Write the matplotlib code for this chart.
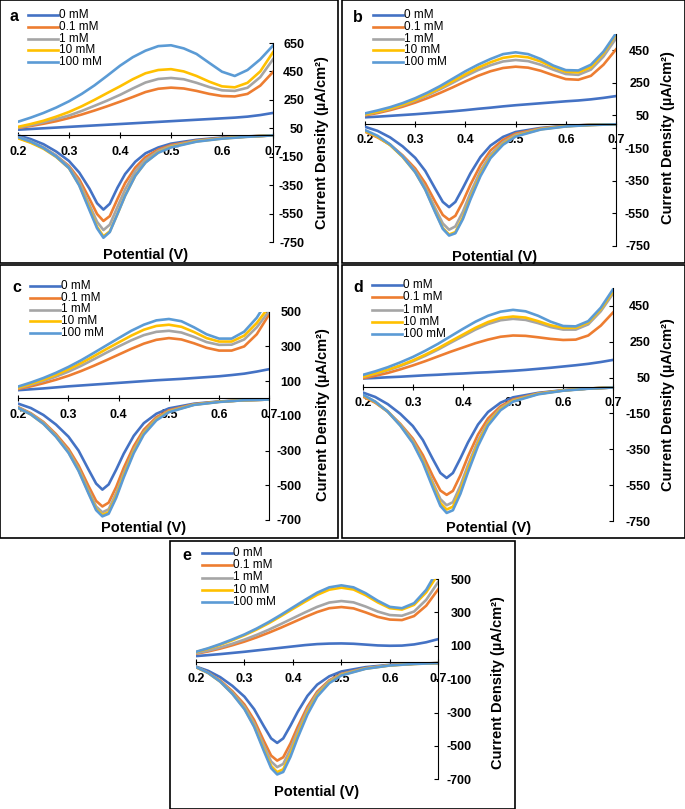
import matplotlib
matplotlib.use("Agg")
import matplotlib.pyplot as plt
from matplotlib.lines import Line2D
from matplotlib.patches import Rectangle

plt.rcParams['font.family'] = ['Liberation Sans', 'DejaVu Sans']
plt.rcParams['axes.unicode_minus'] = False

# potential grids (V) for the forward (anodic) and reverse (cathodic) sweeps
fwd_v = [0.2, 0.225, 0.25, 0.275, 0.3, 0.325, 0.35, 0.375, 0.4, 0.425, 0.45,
         0.475, 0.5, 0.525, 0.55, 0.575, 0.6, 0.625, 0.65, 0.675, 0.7]
rev_v = [0.2, 0.225, 0.25, 0.275, 0.3, 0.32, 0.34, 0.355, 0.3675, 0.38, 0.395,
         0.41, 0.43, 0.45, 0.475, 0.5, 0.55, 0.6, 0.65, 0.7]

conc_labels = ['0 mM', '0.1 mM', '1 mM', '10 mM', '100 mM']
conc_colors = ['#4472C4', '#ED7D31', '#A5A5A5', '#FFC000', '#5B9BD5']

# panel a  (µA/cm²)
a_fwd = [
    [40, 45, 50, 55, 60, 65, 70, 75, 80, 85, 90, 95, 100, 105, 110, 115, 120, 125, 132, 143, 158],
    [52, 66, 82, 100, 122, 147, 175, 205, 237, 270, 305, 328, 336, 330, 313, 292, 277, 274, 292, 350, 446],
    [55, 72, 92, 115, 140, 172, 208, 245, 285, 330, 372, 397, 404, 395, 370, 340, 317, 313, 335, 410, 535],
    [60, 80, 103, 132, 165, 205, 250, 298, 345, 395, 437, 460, 466, 450, 418, 378, 345, 338, 370, 450, 585],
    [96, 125, 158, 196, 240, 292, 352, 420, 490, 550, 596, 628, 634, 612, 573, 510, 448, 418, 460, 535, 632],
]
a_rev = [
    [0, -26, -62, -114, -180, -261, -374, -477, -522, -481, -368, -272, -185, -126, -85, -58, -31, -15, -7, 0],
    [-16, -48, -88, -143, -215, -308, -445, -553, -602, -568, -448, -335, -226, -152, -100, -68, -36, -18, -8, 0],
    [-9, -42, -84, -142, -222, -330, -488, -608, -666, -628, -503, -380, -252, -172, -110, -75, -39, -20, -8, 0],
    [-20, -52, -94, -152, -231, -348, -513, -643, -710, -675, -553, -423, -283, -189, -119, -81, -42, -22, -9, 0],
    [-12, -44, -89, -149, -230, -352, -525, -653, -720, -680, -553, -425, -284, -191, -122, -85, -44, -23, -10, 0],
]

# panel b
b_fwd = [
    [38, 42, 47, 52, 57, 63, 69, 75, 82, 90, 97, 105, 112, 118, 124, 130, 136, 141, 148, 157, 168],
    [50, 64, 82, 103, 128, 156, 188, 222, 258, 292, 320, 340, 348, 342, 323, 296, 272, 268, 292, 360, 454],
    [54, 70, 89, 112, 140, 173, 210, 250, 290, 327, 357, 380, 389, 382, 360, 330, 303, 298, 330, 410, 521],
    [56, 72, 92, 116, 145, 180, 218, 260, 302, 342, 375, 402, 413, 405, 380, 345, 317, 313, 345, 430, 546],
    [62, 80, 100, 125, 155, 190, 230, 275, 320, 360, 395, 425, 436, 425, 395, 355, 327, 325, 360, 440, 552],
]
b_rev = [
    [-20, -45, -85, -140, -210, -290, -400, -480, -512, -480, -395, -305, -205, -135, -82, -52, -27, -14, -8, -5],
    [-50, -85, -130, -195, -275, -365, -480, -560, -590, -565, -478, -375, -255, -165, -100, -62, -30, -15, -8, -5],
    [-45, -80, -130, -200, -290, -390, -520, -612, -650, -630, -540, -425, -290, -190, -115, -70, -33, -16, -8, -5],
    [-45, -80, -132, -205, -298, -402, -540, -640, -680, -665, -575, -455, -312, -205, -125, -76, -35, -17, -9, -5],
    [-40, -75, -128, -202, -298, -405, -545, -645, -686, -672, -585, -465, -322, -212, -130, -80, -37, -18, -9, -5],
]

# panel c
c_fwd = [
    [48, 53, 58, 64, 70, 75, 80, 85, 90, 95, 100, 105, 109, 113, 118, 123, 128, 135, 143, 155, 169],
    [55, 70, 88, 108, 131, 158, 188, 220, 253, 286, 316, 338, 348, 340, 318, 292, 276, 276, 300, 370, 486],
    [60, 79, 101, 126, 155, 188, 225, 263, 300, 335, 365, 384, 390, 380, 355, 325, 309, 310, 340, 410, 505],
    [63, 84, 108, 136, 168, 204, 243, 284, 323, 362, 396, 418, 425, 413, 383, 348, 328, 328, 362, 435, 530],
    [69, 92, 118, 148, 182, 220, 262, 305, 348, 390, 425, 450, 458, 445, 410, 370, 345, 345, 385, 465, 580],
]
c_rev = [
    [-30, -55, -95, -150, -220, -300, -410, -490, -525, -495, -410, -318, -215, -142, -88, -57, -30, -17, -10, -6],
    [-50, -85, -135, -205, -290, -385, -505, -590, -622, -600, -510, -400, -275, -180, -108, -68, -33, -18, -10, -6],
    [-52, -88, -140, -213, -303, -403, -530, -622, -656, -638, -545, -430, -296, -194, -117, -73, -35, -19, -10, -6],
    [-55, -92, -145, -218, -310, -412, -542, -636, -671, -655, -562, -444, -306, -201, -121, -76, -36, -19, -10, -6],
    [-55, -92, -146, -220, -313, -417, -548, -643, -679, -664, -572, -455, -315, -208, -126, -79, -37, -20, -10, -6],
]

# panel d
d_fwd = [
    [45, 48, 52, 55, 59, 63, 66, 70, 73, 77, 80, 84, 88, 93, 99, 105, 112, 119, 127, 137, 149],
    [46, 60, 76, 96, 118, 142, 168, 194, 218, 242, 262, 278, 285, 283, 275, 266, 260, 262, 285, 340, 415],
    [53, 71, 91, 114, 141, 172, 206, 244, 281, 318, 349, 370, 378, 372, 354, 332, 318, 318, 347, 420, 521],
    [55, 73, 94, 118, 146, 178, 213, 252, 290, 328, 360, 383, 391, 385, 365, 342, 328, 328, 358, 432, 534],
    [65, 85, 108, 135, 165, 200, 238, 280, 322, 362, 395, 418, 428, 420, 395, 362, 338, 336, 365, 440, 545],
]
d_rev = [
    [-33, -58, -98, -152, -220, -298, -405, -482, -510, -482, -400, -312, -212, -142, -90, -60, -35, -20, -11, -5],
    [-55, -90, -140, -208, -290, -382, -500, -580, -604, -582, -495, -390, -268, -178, -110, -72, -38, -21, -11, -5],
    [-48, -85, -138, -212, -302, -405, -535, -628, -662, -645, -552, -438, -302, -198, -120, -77, -40, -22, -11, -5],
    [-48, -86, -140, -216, -310, -416, -552, -650, -686, -670, -578, -460, -318, -208, -126, -80, -41, -22, -11, -5],
    [-45, -84, -140, -218, -315, -425, -565, -666, -705, -690, -598, -478, -332, -218, -132, -84, -43, -23, -12, -5],
]

# panel e
e_fwd = [
    [38, 44, 50, 57, 64, 72, 80, 88, 96, 104, 110, 113, 114, 112, 107, 102, 100, 101, 108, 121, 140],
    [52, 66, 83, 103, 125, 150, 178, 208, 240, 272, 302, 325, 332, 324, 300, 273, 257, 254, 278, 340, 439],
    [55, 71, 90, 112, 137, 165, 196, 230, 265, 300, 333, 359, 368, 360, 335, 305, 284, 280, 305, 375, 483],
    [62, 82, 106, 133, 163, 197, 235, 277, 321, 364, 405, 436, 448, 437, 403, 360, 325, 317, 345, 420, 530],
    [64, 85, 110, 138, 168, 203, 242, 285, 330, 375, 418, 450, 462, 450, 415, 370, 333, 325, 355, 435, 560],
]
e_rev = [
    [-25, -50, -88, -140, -205, -280, -382, -455, -482, -455, -378, -295, -200, -133, -83, -54, -28, -14, -7, -4],
    [-28, -60, -108, -172, -252, -345, -470, -558, -588, -568, -485, -385, -265, -175, -107, -68, -34, -16, -8, -4],
    [-28, -62, -112, -180, -266, -365, -498, -593, -627, -608, -518, -410, -282, -185, -112, -71, -35, -17, -8, -4],
    [-28, -63, -115, -186, -276, -380, -520, -620, -657, -640, -548, -435, -300, -197, -119, -75, -37, -18, -9, -4],
    [-27, -62, -115, -188, -280, -386, -530, -633, -671, -656, -565, -450, -312, -205, -124, -78, -38, -18, -9, -4],
]

W, H = 685, 809


def fx(px):
    return px / W


def fy(py):
    return 1 - py / H


fig = plt.figure(figsize=(6.85, 8.09), dpi=100)

# layout in pixels: box, axes (x at 0.2, x at 0.7, y top, y bottom), legend, labels
panels = [
    dict(tag='a', fwd=a_fwd, rev=a_rev, ylim=(-750, 650), box=(0, 0, 338, 263),
         ax=(18, 273, 43, 242), pad=31, letter=(14, 21), leg=(28, 15, 11.75),
         ylab=(322, 143), xlab=(146, 255)),
    dict(tag='b', fwd=b_fwd, rev=b_rev, ylim=(-750, 550), box=(342, 0, 685, 263),
         ax=(365, 616, 33.7, 246), pad=34, letter=(358, 21.5), leg=(373, 15, 11.75),
         ylab=(668, 138), xlab=(495, 256.7)),
    dict(tag='c', fwd=c_fwd, rev=c_rev, ylim=(-700, 500), box=(0, 265, 338, 538),
         ax=(18.3, 269.3, 311.7, 520), pad=32, letter=(16.7, 292.5), leg=(30, 285.7, 11.9),
         ylab=(323, 415), xlab=(144, 528)),
    dict(tag='d', fwd=d_fwd, rev=d_rev, ylim=(-750, 550), box=(342, 265, 685, 538),
         ax=(362.7, 613.3, 288, 521), pad=37, letter=(358.3, 291.5), leg=(371.7, 285, 12.3),
         ylab=(668, 405), xlab=(489, 528)),
    dict(tag='e', fwd=e_fwd, rev=e_rev, ylim=(-700, 500), box=(170, 541, 515, 809),
         ax=(196, 438.3, 579, 779.3), pad=33, letter=(186.7, 560.5), leg=(201.7, 553.3, 12.1),
         ylab=(498, 683), xlab=(316.7, 791.7)),
]

for p in panels:
    bx0, by0, bx1, by1 = p['box']
    fig.add_artist(Rectangle((fx(bx0), fy(by1)), fx(bx1 - bx0), (by1 - by0) / H,
                             transform=fig.transFigure, fill=False, ec='black', lw=1.2))

    x0, x1, yt, yb = p['ax']
    ax = fig.add_axes([fx(x0), fy(yb), fx(x1 - x0), (yb - yt) / H])
    ax.set_facecolor('none')

    for i in range(5):
        ax.plot(fwd_v, p['fwd'][i], color=conc_colors[i], lw=1.9, solid_joinstyle='round')
        ax.plot(rev_v, p['rev'][i], color=conc_colors[i], lw=1.9, solid_joinstyle='round')

    ax.set_xlim(0.2, 0.7)
    ax.set_ylim(*p['ylim'])

    ax.spines['left'].set_visible(False)
    ax.spines['top'].set_visible(False)
    ax.spines['bottom'].set_position(('data', 0))
    ax.spines['bottom'].set_linewidth(0.8)
    ax.spines['right'].set_linewidth(0.8)
    ax.yaxis.tick_right()

    xt = [0.2, 0.3, 0.4, 0.5, 0.6, 0.7]
    ax.set_xticks(xt, ['%.1f' % v for v in xt], fontsize=9, fontweight='bold')
    yt_vals = list(range(p['ylim'][0], p['ylim'][1] + 1, 200))
    ax.set_yticks(yt_vals, [str(v) for v in yt_vals], fontsize=9, fontweight='bold', ha='right')
    ax.tick_params(axis='x', direction='inout', length=5, width=0.8, pad=5)
    ax.tick_params(axis='y', direction='in', length=3, width=0.8, pad=p['pad'] * 0.72)

    fig.text(fx(p['ylab'][0]), fy(p['ylab'][1]), 'Current Density (µA/cm²)', rotation=90,
             ha='center', va='center', fontsize=10.5, fontweight='bold')
    fig.text(fx(p['xlab'][0]), fy(p['xlab'][1]), 'Potential (V)',
             ha='center', va='center', fontsize=10.5, fontweight='bold')

    # legend, drawn by hand to keep the tight row spacing
    fig.text(fx(p['letter'][0]), fy(p['letter'][1]), p['tag'], ha='center', va='baseline',
             fontsize=11.5, fontweight='bold')
    lx, ly, step = p['leg']
    for i in range(5):
        yy = ly + i * step
        fig.add_artist(Line2D([fx(lx), fx(lx + 30)], [fy(yy), fy(yy)], transform=fig.transFigure,
                              color=conc_colors[i], lw=1.9))
        fig.text(fx(lx + 31), fy(yy), conc_labels[i], ha='left', va='center', fontsize=8.5)

fig.savefig('out.png', dpi=100)
